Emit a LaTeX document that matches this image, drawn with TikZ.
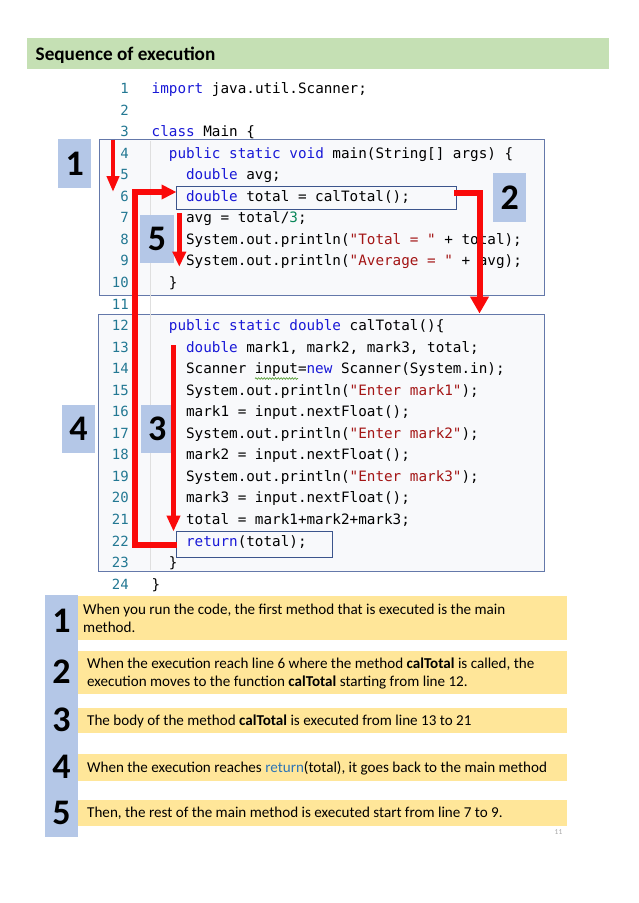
\documentclass[tikz,border=0pt]{standalone}
\usepackage{fontspec}
\setmainfont{Carlito}
\setmonofont{DejaVu Sans Mono}
\usetikzlibrary{arrows.meta,decorations.pathmorphing}
\definecolor{hdrgreen}{RGB}{197,224,180}
\definecolor{lblue}{RGB}{180,199,231}
\definecolor{yel}{RGB}{255,230,153}
\definecolor{kwc}{RGB}{25,25,215}
\definecolor{strc}{RGB}{163,21,21}
\definecolor{numc}{RGB}{9,134,88}
\definecolor{lnc}{RGB}{35,120,147}
\definecolor{boxc}{RGB}{100,120,170}
\definecolor{hlc}{RGB}{60,85,140}
\definecolor{arrred}{RGB}{250,10,10}
\definecolor{codebg}{RGB}{248,249,251}
\definecolor{retc}{RGB}{46,117,182}
\definecolor{squig}{RGB}{90,160,60}
\newcommand{\kwd}[1]{\textcolor{kwc}{#1}}
\newcommand{\strg}[1]{\textcolor{strc}{#1}}
\newcommand{\numl}[1]{\textcolor{numc}{#1}}
\newcommand{\codeline}[3]{%
  \node[lnum] (n#1) at (129,{93.5+(#1-1)*21.55}) {#1};
  \node[code] (c#1) at ({151.5+#2*8.6},{93.5+(#1-1)*21.55}) {#3};}
\newcommand{\blankline}[1]{%
  \node[lnum] (n#1) at (129,{93.5+(#1-1)*21.55}) {#1};}
\begin{document}
\begin{tikzpicture}[x=1pt,y=-1pt,
  lnum/.style={anchor=base east,inner sep=0,text=lnc,font=\ttfamily\fontsize{14}{14}\selectfont},
  code/.style={anchor=base west,inner sep=0,text=black,font=\ttfamily\fontsize{14.3}{15}\selectfont},
  cbox/.style={draw=boxc,line width=1.3,fill=codebg,anchor=north west,inner sep=0},
  hbox/.style={draw=hlc,line width=1.2,anchor=north west,inner sep=0},
  lbl/.style={fill=lblue,anchor=north west,inner sep=0,font=\bfseries\fontsize{36}{36}\selectfont},
  bignum/.style={inner sep=0,font=\bfseries\fontsize{36}{36}\selectfont},
  ybox/.style={fill=yel,anchor=north west,inner sep=0,minimum width=489},
  captxt/.style={anchor=base west,inner sep=0,font=\fontsize{15.1}{17}\selectfont},
  arr/.style={draw=arrred,line join=miter}
]
\useasboundingbox (0,0) rectangle (638,903);
\fill[white] (0,0) rectangle (638,903);
% header
\node[fill=hdrgreen,anchor=north west,inner sep=0,minimum width=582,minimum height=31] (hdr) at (27,37.5) {};
\node[anchor=base west,inner sep=0,font=\bfseries\fontsize{19.2}{21}\selectfont] (title) at (35.5,60) {Sequence of execution};
% code boxes
\node[cbox,minimum width=445.5,minimum height=156] (mainbox) at (98.5,139) {};
\node[cbox,minimum width=446,minimum height=257] (calbox) at (98,314) {};
\draw[gray!25,line width=0.8] (150.5,141) -- (150.5,570);
\node[hbox,minimum width=280,minimum height=23.5] (l6box) at (176,185.5) {};
\node[hbox,minimum width=156,minimum height=25.5] (retbox) at (176,531) {};
% code
\codeline{1}{0}{\kwd{import} java.util.Scanner;}
\blankline{2}
\codeline{3}{0}{\kwd{class} Main \{}
\codeline{4}{2}{\kwd{public} \kwd{static} \kwd{void} main(String[] args) \{}
\codeline{5}{4}{\kwd{double} avg;}
\codeline{6}{4}{\kwd{double} total = calTotal();}
\codeline{7}{4}{avg = total/\numl{3};}
\codeline{8}{4}{System.out.println(\strg{"Total = "} + total);}
\codeline{9}{4}{System.out.println(\strg{"Average = "} + avg);}
\codeline{10}{2}{\}}
\blankline{11}
\codeline{12}{2}{\kwd{public} \kwd{static} \kwd{double} calTotal()\{}
\codeline{13}{4}{\kwd{double} mark1, mark2, mark3, total;}
\codeline{14}{4}{Scanner input=\kwd{new} Scanner(System.in);}
\codeline{15}{4}{System.out.println(\strg{"Enter mark1"});}
\codeline{16}{4}{mark1 = input.nextFloat();}
\codeline{17}{4}{System.out.println(\strg{"Enter mark2"});}
\codeline{18}{4}{mark2 = input.nextFloat();}
\codeline{19}{4}{System.out.println(\strg{"Enter mark3"});}
\codeline{20}{4}{mark3 = input.nextFloat();}
\codeline{21}{4}{total = mark1+mark2+mark3;}
\codeline{22}{4}{\kwd{return}(total);}
\codeline{23}{2}{\}}
\codeline{24}{0}{\}}
\coordinate (sq1) at (255,378.5);
\coordinate (sq2) at (298,378.5);
\draw[squig,line width=0.7,decorate,decoration={snake,amplitude=0.8pt,segment length=2.8pt}] (sq1) -- (sq2);
% labels
\node[lbl,minimum width=33,minimum height=49] (lab1) at (58,139) {1};
\node[lbl,minimum width=33,minimum height=49] (lab2) at (493,173) {2};
\node[lbl,minimum width=33.5,minimum height=48] (lab5) at (140,215) {5};
\node[lbl,minimum width=33.5,minimum height=48] (lab4) at (61.5,405) {4};
\node[lbl,minimum width=32,minimum height=48] (lab3) at (141,405) {3};
% arrows
\coordinate (a1s) at (113,139.5);
\coordinate (a1e) at (113,192);
\draw[arr,line width=4.5,-{Triangle[length=16,width=12]}] (a1s) -- (a1e);
\coordinate (a2s) at (454,193);
\coordinate (a2e) at (479.5,313.5);
\draw[arr,line width=6,-{Triangle[length=17,width=18]}] (a2s) -| (a2e);
\coordinate (a3s) at (173.5,345);
\coordinate (a3e) at (173.5,531.5);
\draw[arr,line width=5,-{Triangle[length=16,width=13]}] (a3s) -- (a3e);
\coordinate (a4s) at (176.5,545);
\coordinate (a4e) at (176.5,192);
\draw[arr,line width=5.3,-{Triangle[length=15,width=14]}] (a4s) -- ++(-41.5,0) |- (a4e);
\coordinate (a5s) at (179.3,213);
\coordinate (a5e) at (179.3,266.7);
\draw[arr,line width=4.5,-{Triangle[length=15,width=13]}] (a5s) -- (a5e);
% bottom notes
\node[fill=lblue,anchor=north west,inner sep=0,minimum width=33,minimum height=242] (col) at (45,595) {};
\node[ybox,minimum height=44] (y1) at (78,596) {};
\node[ybox,minimum height=43.5] (y2) at (78,650.5) {};
\node[ybox,minimum height=25] (y3) at (78,708) {};
\node[ybox,minimum height=27] (y4) at (78,754) {};
\node[ybox,minimum height=26] (y5) at (78,800) {};
\node[bignum] (b1) at (61.5,621) {1};
\node[bignum] (b2) at (61.5,671.5) {2};
\node[bignum] (b3) at (61.5,720) {3};
\node[bignum] (b4) at (61.5,767) {4};
\node[bignum] (b5) at (61.5,813) {5};
\node[captxt] (t1a) at (83,614.5) {When you run the code, the first method that is executed is the main};
\node[captxt] (t1b) at (83,632.5) {method.};
\node[captxt] (t2a) at (87,668.5) {When the execution reach line 6 where the method \textbf{calTotal} is called, the};
\node[captxt] (t2b) at (87,686.5) {execution moves to the function \textbf{calTotal} starting from line 12.};
\node[captxt] (t3) at (87,725.5) {The body of the method \textbf{calTotal} is executed from line 13 to 21};
\node[captxt] (t4) at (87,772) {When the execution reaches \textcolor{retc}{return}(total), it goes back to the main method};
\node[captxt] (t5) at (87,817.5) {Then, the rest of the main method is executed start from line 7 to 9.};
\node[anchor=center,inner sep=0,text=gray!70,font=\fontsize{7.5}{8}\selectfont] (pg) at (558.5,832) {11};
\end{tikzpicture}
\end{document}
